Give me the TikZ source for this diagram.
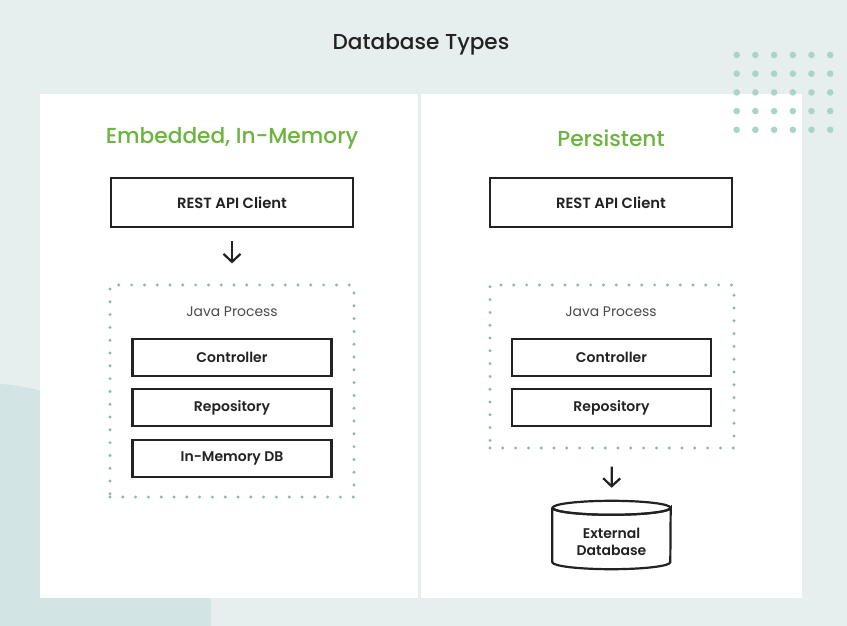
\documentclass[tikz,border=0pt]{standalone}
\usepackage{fontspec}
\setmainfont{Poppins}
\newfontfamily\pmedium{Poppins Medium}
\newfontfamily\psemi{Poppins SemiBold}
\usetikzlibrary{arrows.meta}
\definecolor{bgpale}{HTML}{E6EFEE}
\definecolor{bgdeep}{HTML}{D3E4E4}
\definecolor{springgreen}{HTML}{6DB33F}
\definecolor{ink}{HTML}{222222}
\definecolor{captiongrey}{HTML}{4A4A4A}
\definecolor{dotteal}{HTML}{A9D3CB}
\definecolor{dotgrey}{HTML}{90B2AC}
\tikzset{
  panel/.style={fill=white, draw=none},
  heading/.style={font=\pmedium\fontsize{21.7}{25}\selectfont, text=springgreen},
  labelfont/.style={font=\psemi\fontsize{14}{17.5}\selectfont, text=ink},
  layerbox/.style={draw=ink, line width=2.2pt, minimum width=199pt, minimum height=37pt,
    labelfont, inner sep=0pt},
  clientbox/.style={layerbox, minimum width=242pt, minimum height=49pt,
    font=\psemi\fontsize{14.8}{17}\selectfont},
  procbox/.style={draw=dotgrey, line width=3.2pt, dash pattern=on 0pt off 12.8pt, line cap=round,
    minimum width=244pt, inner sep=0pt},
  flow/.style={draw=ink, line width=2.2pt, -{Straight Barb[length=8pt,width=17pt,line width=2.2pt]}},
  caption/.style={font=\fontsize{13.9}{16}\selectfont, text=captiongrey},
}
\begin{document}
\begin{tikzpicture}[x=1pt,y=-1pt]
\useasboundingbox (0,0) rectangle (847,626);
% backdrop
\fill[bgpale] (0,0) rectangle (847,626);
\fill[bgdeep] (0,384) .. controls (20,385) and (42,390) .. (62,398) -- (211,398) -- (211,626) -- (0,626) -- cycle;
% two white panels
\fill[panel] (40,94) rectangle (418,598);
\fill[panel] (421,94) rectangle (802,598);
% dot grid, top right
\foreach \i in {0,...,5}
  \foreach \j in {0,...,4}
    \fill[dotteal] (736.7+18.7*\i, 55+18.7*\j) circle (3.3);
% title
\node[font=\pmedium\fontsize{21.6}{24}\selectfont, text=ink] (title) at (421,44) {Database Types};
% ---- embedded, in-memory ----
\node[heading] (hL) at (232,138) {Embedded, In-Memory};
\node[clientbox] (clientL) at (232,202.5) {REST API Client};
\node[procbox, minimum height=212pt] (procL) at (232,391) {};
\node[caption] (jpL) at (232,312) {Java Process};
\node[layerbox] (ctrlL) at (232,357.5) {Controller};
\node[layerbox] (repoL) at (232,407.5) {Repository};
\node[layerbox] (memL) at (232,458.5) {In-Memory DB};
\draw[flow, shorten <=13pt, shorten >=20pt] (clientL.south) -- (procL.north);
% ---- persistent ----
\node[heading] (hR) at (611,138) {Persistent};
\node[clientbox] (clientR) at (611,202.5) {REST API Client};
\node[procbox, minimum height=163pt] (procR) at (612,366.5) {};
\node[caption] (jpR) at (611,312) {Java Process};
\node[layerbox] (ctrlR) at (611.5,357.5) {Controller};
\node[layerbox] (repoR) at (611.5,407.5) {Repository};
% external database cylinder: outline first, label on top
\node[minimum width=118pt, minimum height=68pt, inner sep=0pt] (db) at (611.5,535) {};
\draw[ink, line width=2.2pt, fill=white]
  ([yshift=-7pt]db.north west) -- ([yshift=7pt]db.south west)
  arc[start angle=180, end angle=360, x radius=59pt, y radius=7pt]
  -- ([yshift=-7pt]db.north east)
  arc[start angle=0, end angle=-180, x radius=59pt, y radius=7pt];
\draw[ink, line width=2.2pt] ([yshift=-7pt]db.north) ellipse[x radius=59pt, y radius=7pt];
\node[labelfont, align=center, inner sep=0pt] (dblabel) at ([yshift=-7pt]db.center) {External\\Database};
\draw[flow, shorten <=17pt, shorten >=13pt] (procR.south) -- (db.north);
\end{tikzpicture}
\end{document}
